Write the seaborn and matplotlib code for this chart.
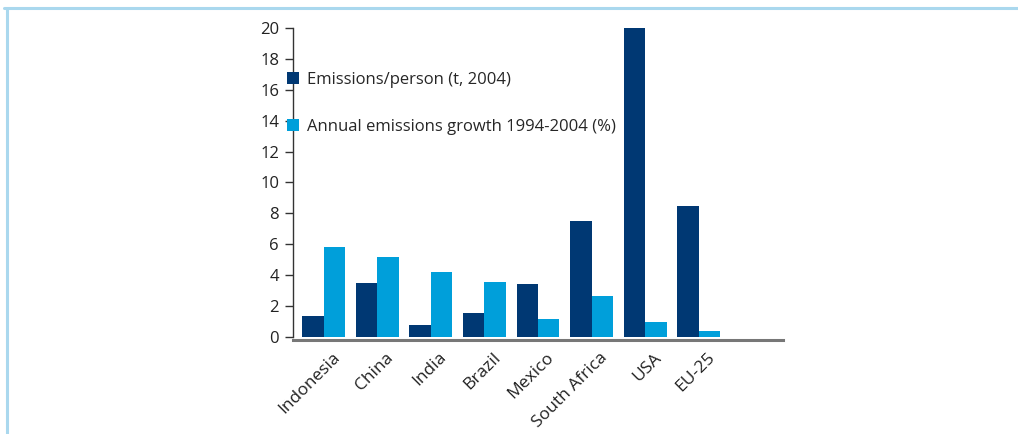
import matplotlib
matplotlib.use("Agg")
import matplotlib.pyplot as plt
from matplotlib.lines import Line2D
from matplotlib.transforms import ScaledTranslation
import seaborn as sns
import pandas as pd

# values
countries = ["Indonesia", "China", "India", "Brazil", "Mexico", "South Africa", "USA", "EU-25"]
emissions_per_person = [1.35, 3.5, 0.8, 1.55, 3.45, 7.5, 20.0, 8.5]
annual_growth = [5.8, 5.2, 4.2, 3.55, 1.15, 2.65, 1.0, 0.4]
series_names = ["Emissions/person (t, 2004)", "Annual emissions growth 1994-2004 (%)"]
palette = ["#003873", "#009fda"]

df = pd.DataFrame({
    "country": countries * 2,
    "value": emissions_per_person + annual_growth,
    "series": [series_names[0]] * len(countries) + [series_names[1]] * len(countries),
})

sns.set_style("white")
plt.rcParams["font.family"] = ["Open Sans", "DejaVu Sans"]

fig = plt.figure(figsize=(10.18, 4.34), dpi=100)
ax = fig.add_axes([0.2878, 0.2235, 0.4814, 0.712])

sns.barplot(data=df, x="country", y="value", hue="series", order=countries,
            hue_order=series_names, palette=palette, width=0.8,
            saturation=1, edgecolor="none", ax=ax)

ax.set_xlim(-0.57, 8.57)
ax.set_ylim(0, 20)
ax.set_yticks(range(0, 21, 2))
ax.set_xlabel("")
ax.set_ylabel("")

for s in ["top", "right"]:
    ax.spines[s].set_visible(False)
ax.spines["left"].set_color("#333333")
ax.spines["left"].set_linewidth(1)
ax.spines["bottom"].set_color("#777777")
ax.spines["bottom"].set_linewidth(2.2)
ax.spines["bottom"].set_position(("outward", 2))

ax.tick_params(axis="y", left=True, length=6, width=1, color="#333333",
               labelsize=12, labelcolor="#222222", pad=4)
ax.tick_params(axis="x", bottom=False, labelsize=12.5, labelcolor="#222222", pad=2)
shift = ScaledTranslation(8 / 100, -2 / 100, fig.dpi_scale_trans)
for lbl in ax.get_xticklabels():
    lbl.set_rotation(45)
    lbl.set_ha("right")
    lbl.set_rotation_mode("anchor")
    lbl.set_transform(lbl.get_transform() + shift)

ax.legend(loc="upper left", bbox_to_anchor=(-0.025, 0.88), frameon=False,
          fontsize=12, handlelength=0.7, handleheight=0.7, handletextpad=0.45,
          labelspacing=1.85, borderaxespad=0)

# light blue frame around the figure panel
fig.add_artist(Line2D([0.0065, 0.0065], [0, 0.982], color="#aad8ee", lw=2.2))
fig.add_artist(Line2D([0.004, 1.0], [0.982, 0.982], color="#aad8ee", lw=2.2))

fig.savefig("out.png", dpi=100)
